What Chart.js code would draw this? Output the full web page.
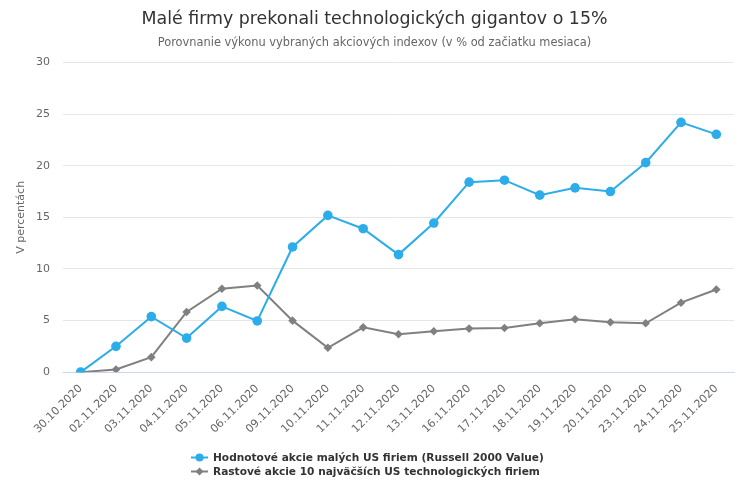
<!DOCTYPE html>
<html>
<head>
<meta charset="utf-8">
<script src="https://cdn.jsdelivr.net/npm/chart.js@4"></script>
<style>
  html, body { margin: 0; padding: 0; background: #ffffff; }
  #wrap { position: relative; width: 744px; height: 500px; }
</style>
</head>
<body>
<div id="wrap"><canvas id="c" width="744" height="500"></canvas></div>
<script>
const categories = ["30.10.2020","02.11.2020","03.11.2020","04.11.2020","05.11.2020","06.11.2020","09.11.2020","10.11.2020","11.11.2020","12.11.2020","13.11.2020","16.11.2020","17.11.2020","18.11.2020","19.11.2020","20.11.2020","23.11.2020","24.11.2020","25.11.2020"];
const russellValue = [0, 2.5, 5.38, 3.3, 6.37, 4.96, 12.13, 15.19, 13.9, 11.39, 14.45, 18.41, 18.6, 17.15, 17.86, 17.5, 20.3, 24.2, 23.04];
const techGiants = [0, 0.26, 1.45, 5.83, 8.08, 8.4, 4.99, 2.36, 4.34, 3.67, 3.96, 4.22, 4.28, 4.73, 5.12, 4.83, 4.73, 6.73, 8.01];
const seriesNames = ["Hodnotové akcie malých US firiem (Russell 2000 Value)", "Rastové akcie 10 najväčších US technologických firiem"];
const titleText = "Malé firmy prekonali technologických gigantov o 15%";
const subtitleText = "Porovnanie výkonu vybraných akciových indexov (v % od začiatku mesiaca)";
const yAxisTitle = "V percentách";
const yMin = 0, yMax = 30, yStep = 5;

const FONT = "'DejaVu Sans', sans-serif";

const legendPlugin = {
  id: 'customLegend',
  afterDraw(chart) {
    const ctx = chart.ctx;
    ctx.save();
    ctx.font = "bold 10.6px " + FONT;
    const widths = chart.data.datasets.map(d => ctx.measureText(d.label).width);
    const symW = 17, gap = 5;
    const blockW = symW + gap + Math.max(...widths);
    const x0 = Math.round(chart.width / 2 - 4.5 - blockW / 2);
    const ys = [457.5, 471.5];
    chart.data.datasets.forEach((d, i) => {
      const y = ys[i];
      ctx.strokeStyle = d.borderColor;
      ctx.lineWidth = 2;
      ctx.beginPath();
      ctx.moveTo(x0, y);
      ctx.lineTo(x0 + symW, y);
      ctx.stroke();
      ctx.fillStyle = d.pointBackgroundColor;
      const cx = x0 + symW / 2;
      ctx.beginPath();
      if (d.pointStyle === 'rectRot') {
        ctx.moveTo(cx, y - 4); ctx.lineTo(cx + 4, y); ctx.lineTo(cx, y + 4); ctx.lineTo(cx - 4, y);
      } else {
        ctx.arc(cx, y, 4, 0, Math.PI * 2);
      }
      ctx.closePath();
      ctx.fill();
      ctx.fillStyle = '#333333';
      ctx.textBaseline = 'middle';
      ctx.textAlign = 'left';
      ctx.fillText(d.label, x0 + symW + gap, y + 0.5);
    });
    ctx.restore();
  }
};

new Chart(document.getElementById('c'), {
  type: 'line',
  data: {
    labels: categories,
    datasets: [
      {
        label: seriesNames[0],
        data: russellValue,
        borderColor: '#2cadea',
        backgroundColor: '#2cadea',
        pointBackgroundColor: '#2cadea',
        pointBorderColor: '#2cadea',
        pointBorderWidth: 0,
        pointStyle: 'circle',
        pointRadius: 4.8,
        borderWidth: 2,
        tension: 0
      },
      {
        label: seriesNames[1],
        data: techGiants,
        borderColor: '#808080',
        backgroundColor: '#808080',
        pointBackgroundColor: '#808080',
        pointBorderColor: '#808080',
        pointBorderWidth: 0,
        pointStyle: 'rectRot',
        pointRadius: 4.3,
        borderWidth: 2,
        tension: 0
      }
    ]
  },
  options: {
    responsive: false,
    animation: false,
    layout: { padding: { left: 15, right: 10, top: 7, bottom: 62 } },
    plugins: {
      legend: { display: false },
      tooltip: { enabled: false },
      title: {
        display: true,
        text: titleText,
        color: '#333333',
        font: { family: FONT, size: 17.4, weight: 'normal' },
        padding: { top: 2, bottom: 4 }
      },
      subtitle: {
        display: true,
        text: subtitleText,
        color: '#666666',
        font: { family: FONT, size: 11.4, weight: 'normal' },
        padding: { top: 2, bottom: 13 }
      }
    },
    scales: {
      x: {
        offset: true,
        grid: { display: false },
        border: { display: true, color: '#ccd6eb', width: 1 },
        ticks: {
          color: '#666666',
          font: { family: FONT, size: 11 },
          minRotation: 45,
          maxRotation: 45,
          autoSkip: false,
          padding: 2
        },
        afterFit(scale) { scale.paddingLeft = 0; }
      },
      y: {
        min: yMin,
        max: yMax,
        grid: { color: '#e6e6e6', drawTicks: false },
        border: { display: false },
        ticks: {
          stepSize: yStep,
          color: '#666666',
          font: { family: FONT, size: 11 },
          padding: 13
        },
        title: {
          display: true,
          text: yAxisTitle,
          color: '#666666',
          font: { family: FONT, size: 11 },
          padding: { top: 0, bottom: 9 }
        },
        afterFit(scale) { scale.width = 48; }
      }
    }
  },
  plugins: [legendPlugin]
});
</script>
</body>
</html>
